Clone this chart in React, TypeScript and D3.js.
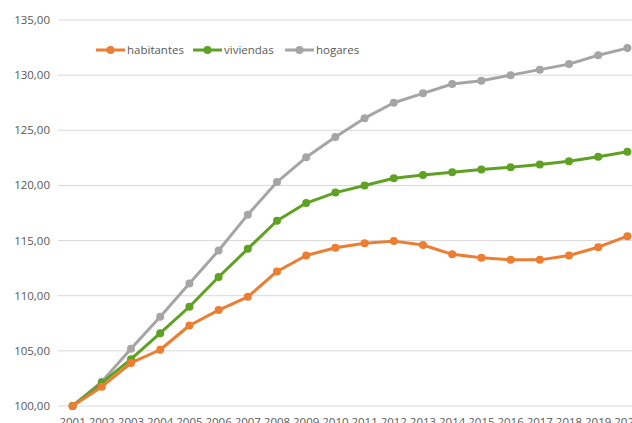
import React, { useRef, useEffect } from "react";
import * as d3 from "d3";

const years = ["2001","2002","2003","2004","2005","2006","2007","2008","2009","2010","2011","2012","2013","2014","2015","2016","2017","2018","2019","2020"];
const habitantes = [100, 101.75, 103.9, 105.1, 107.3, 108.7, 109.9, 112.2, 113.65, 114.35, 114.75, 114.95, 114.6, 113.75, 113.45, 113.25, 113.25, 113.65, 114.4, 115.4];
const viviendas = [100, 102.1, 104.25, 106.6, 109.0, 111.7, 114.25, 116.8, 118.4, 119.35, 120.0, 120.65, 120.95, 121.2, 121.45, 121.65, 121.9, 122.2, 122.6, 123.05];
const hogares = [100, 102.2, 105.2, 108.1, 111.1, 114.1, 117.35, 120.3, 122.55, 124.4, 126.1, 127.5, 128.35, 129.2, 129.5, 130.0, 130.5, 131.0, 131.8, 132.45];
const yTicks = [100, 105, 110, 115, 120, 125, 130, 135];

const series = [
  { name: "habitantes", values: habitantes, color: "#ED7D31" },
  { name: "viviendas", values: viviendas, color: "#5FA122" },
  { name: "hogares", values: hogares, color: "#A5A5A5" },
];

const W = 632;
const H = 423;

const App = () => {
  const ref = useRef<SVGSVGElement>(null);

  useEffect(() => {
    const svg = d3.select(ref.current);
    svg.selectAll("*").remove();

    const left = 58, right = 642, top = 20, bottom = 406;
    const x = d3.scaleBand().domain(years).range([left, right]);
    const y = d3.scaleLinear().domain([100, 135]).range([bottom, top]);
    const font = "'Open Sans', 'DejaVu Sans', sans-serif";

    // gridlines
    svg.append("g")
      .selectAll("line")
      .data(yTicks)
      .enter()
      .append("line")
      .attr("x1", left)
      .attr("x2", W)
      .attr("y1", d => y(d))
      .attr("y2", d => y(d))
      .attr("stroke", "#d9d9d9")
      .attr("stroke-width", 1);

    // y labels
    svg.append("g")
      .selectAll("text")
      .data(yTicks)
      .enter()
      .append("text")
      .attr("x", 50)
      .attr("y", d => y(d))
      .attr("dy", "0.35em")
      .attr("text-anchor", "end")
      .attr("font-family", font)
      .attr("font-size", 11.5)
      .attr("fill", "#595959")
      .text(d => d3.format(".2f")(d).replace(".", ","));

    // x labels
    svg.append("g")
      .selectAll("text")
      .data(years)
      .enter()
      .append("text")
      .attr("x", d => (x(d) as number) + x.bandwidth() / 2)
      .attr("y", 426)
      .attr("text-anchor", "middle")
      .attr("font-family", font)
      .attr("font-size", 11.5)
      .attr("fill", "#595959")
      .text(d => d);

    const line = d3.line<number>()
      .x((_, i) => (x(years[i]) as number) + x.bandwidth() / 2)
      .y(d => y(d));

    // draw gray first so orange sits on top like the reference
    [...series].reverse().forEach(s => {
      const g = svg.append("g");
      g.append("path")
        .attr("d", line(s.values))
        .attr("fill", "none")
        .attr("stroke", s.color)
        .attr("stroke-width", 3)
        .attr("stroke-linejoin", "round");
      g.selectAll("circle")
        .data(s.values)
        .enter()
        .append("circle")
        .attr("cx", (_, i) => (x(years[i]) as number) + x.bandwidth() / 2)
        .attr("cy", d => y(d))
        .attr("r", 4)
        .attr("fill", s.color);
    });

    // legend
    const legendX = [96, 193, 285];
    series.forEach((s, i) => {
      const g = svg.append("g").attr("transform", `translate(${legendX[i]}, 50)`);
      g.append("line").attr("x1", 0).attr("x2", 29).attr("stroke", s.color).attr("stroke-width", 3);
      g.append("circle").attr("cx", 14.5).attr("r", 4).attr("fill", s.color);
      g.append("text")
        .attr("x", 31)
        .attr("dy", "0.35em")
        .attr("font-family", font)
        .attr("font-size", 11.5)
        .attr("fill", "#595959")
        .text(s.name);
    });
  }, []);

  return (
    <svg
      ref={ref}
      width={W}
      height={H}
      style={{ position: "absolute", left: 0, top: 0, background: "#fff" }}
    />
  );
};

export default App;
